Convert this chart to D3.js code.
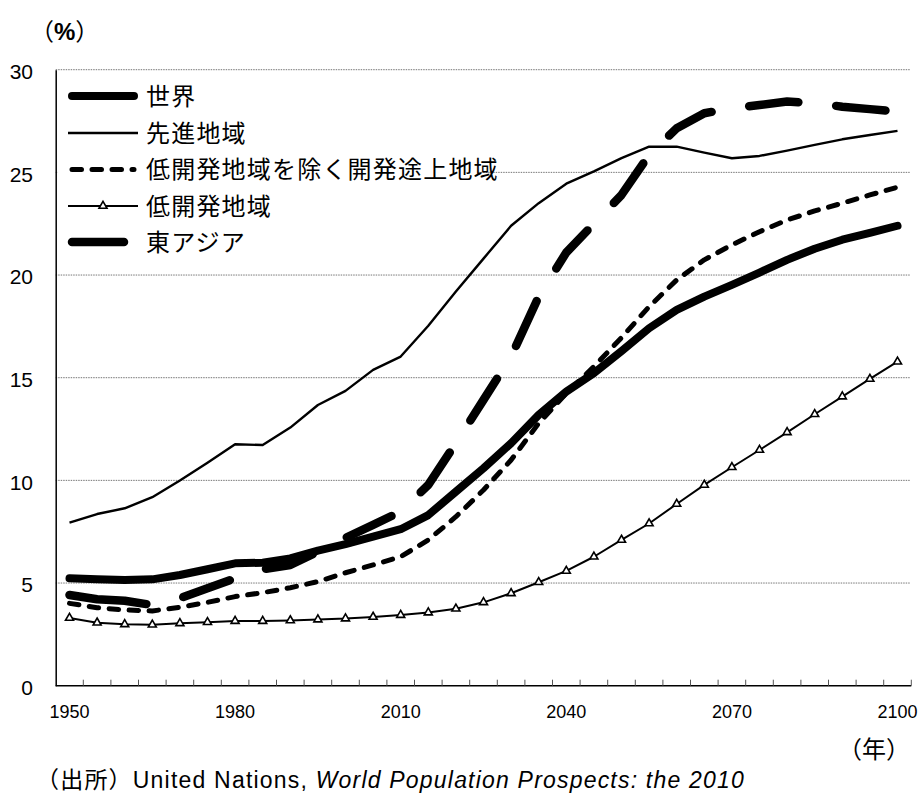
<!DOCTYPE html>
<html>
<head>
<meta charset="utf-8">
<script src="https://cdn.jsdelivr.net/npm/d3@7"></script>
<style>
  body { margin: 0; background: #fff; }
  svg { display: block; }
  text { font-family: "Liberation Sans", Arial, "Noto Sans CJK JP", sans-serif; fill: #000; }
  .jp { font-family: "Noto Sans CJK JP", "Liberation Sans", sans-serif; }
</style>
</head>
<body>
<div id="chart"></div>
<script>
// categories (5-year steps)
var years = [1950, 1955, 1960, 1965, 1970, 1975, 1980, 1985, 1990, 1995,
             2000, 2005, 2010, 2015, 2020, 2025, 2030, 2035, 2040, 2045,
             2050, 2055, 2060, 2065, 2070, 2075, 2080, 2085, 2090, 2095, 2100];
var tickYears = [1950, 1980, 2010, 2040, 2070, 2100];
var yTicks = [0, 5, 10, 15, 20, 25, 30];

var seriesNames = ["世界", "先進地域", "低開発地域を除く開発途上地域", "低開発地域", "東アジア"];

// share of population aged 65+ (%)
var world = [5.23, 5.18, 5.15, 5.18, 5.39, 5.67, 5.96, 5.99, 6.20, 6.58,
             6.90, 7.26, 7.62, 8.31, 9.45, 10.59, 11.81, 13.19, 14.32, 15.22,
             16.30, 17.41, 18.30, 18.95, 19.52, 20.12, 20.74, 21.28, 21.72, 22.05, 22.40];
var developed = [7.94, 8.36, 8.64, 9.18, 9.99, 10.86, 11.76, 11.72, 12.57, 13.67,
                 14.36, 15.38, 16.03, 17.53, 19.20, 20.80, 22.40, 23.50, 24.45, 25.05,
                 25.69, 26.25, 26.25, 25.96, 25.69, 25.80, 26.06, 26.34, 26.61, 26.82, 27.02];
var lessDevExcl = [4.01, 3.80, 3.69, 3.64, 3.82, 4.06, 4.34, 4.53, 4.77, 5.07,
                   5.50, 5.88, 6.28, 7.10, 8.23, 9.53, 10.99, 12.78, 14.24, 15.54,
                   16.95, 18.46, 19.76, 20.74, 21.47, 22.11, 22.68, 23.12, 23.50, 23.90, 24.28];
var leastDev = [3.30, 3.07, 2.99, 2.97, 3.04, 3.09, 3.15, 3.15, 3.18, 3.22,
                3.27, 3.35, 3.44, 3.56, 3.75, 4.06, 4.50, 5.04, 5.59, 6.28,
                7.10, 7.90, 8.85, 9.78, 10.64, 11.48, 12.34, 13.22, 14.08, 14.94, 15.78];
var eastAsia = [4.42, 4.21, 4.14, 3.93, 4.26, 4.74, 5.23, 5.67, 5.88, 6.53,
                7.20, 7.83, 8.48, 9.78, 11.81, 13.92, 16.03, 18.95, 21.10, 22.50,
                23.90, 25.85, 27.15, 27.88, 28.12, 28.28, 28.45, 28.37, 28.20, 28.08, 27.96];

var W = 920, H = 794;
var margin = { top: 69.7, right: 8.7, bottom: 108.3, left: 55.7 };

var svg = d3.select("#chart").append("svg")
    .attr("width", W)
    .attr("height", H);

var x = d3.scaleBand()
    .domain(years)
    .range([margin.left, W - margin.right])
    .padding(0);
var cx = function(yr) { return x(yr) + x.bandwidth() / 2; };

var y = d3.scaleLinear()
    .domain([0, 30])
    .range([H - margin.bottom, margin.top]);

// gridlines
svg.append("g").selectAll("line")
    .data(yTicks.filter(function(d) { return d > 0; }))
  .enter().append("line")
    .attr("x1", margin.left).attr("x2", W - 10)
    .attr("y1", function(d) { return y(d); })
    .attr("y2", function(d) { return y(d); })
    .attr("stroke", "#777")
    .attr("stroke-width", 1)
    .attr("stroke-dasharray", "1.5,1");

// y axis
var yAxis = svg.append("g")
    .attr("transform", "translate(" + margin.left + ",0)")
    .call(d3.axisLeft(y).tickValues(yTicks).tickSize(0).tickPadding(22.7));
yAxis.select(".domain").attr("stroke", "#000").attr("stroke-width", 1.5);
yAxis.selectAll("text")
    .attr("dy", "0.42em")
    .style("font-family", "'Liberation Sans', Arial, sans-serif")
    .style("font-size", "21px");

// x axis (labels at category centres, ticks at category boundaries)
var xAxis = svg.append("g")
    .attr("transform", "translate(0," + (H - margin.bottom) + ")")
    .call(d3.axisBottom(x).tickValues(tickYears).tickSize(0).tickPadding(19.5));
xAxis.select(".domain").attr("d", "M" + margin.left + ",0H" + (W - margin.right))
    .attr("stroke", "#000").attr("stroke-width", 1.5);
xAxis.selectAll("text")
    .style("font-family", "'Liberation Sans', Arial, sans-serif")
    .style("font-size", "18px");
xAxis.selectAll("line.bound")
    .data(years)
  .enter().append("line")
    .attr("class", "bound")
    .attr("x1", function(d) { return x(d) + x.bandwidth(); })
    .attr("x2", function(d) { return x(d) + x.bandwidth(); })
    .attr("y1", 0).attr("y2", -6)
    .attr("stroke", "#555")
    .attr("stroke-width", 1);

// long-dash pattern: the first dash runs longer, as in the original
var longDash = [77.5, 38];
for (var k = 0; k < 24; k++) longDash.push(49.5, 38);

// series
var styles = [
  { values: world,       width: 8,   dash: null,      cap: "round" },
  { values: developed,   width: 2.4, dash: null,      cap: "butt" },
  { values: lessDevExcl, width: 5,   dash: "9.5,10.5", cap: "round" },
  { values: leastDev,    width: 2,   dash: null,      cap: "butt", marker: true },
  { values: eastAsia,    width: 8.5, dash: longDash.join(","), cap: "round" }
];

var line = d3.line()
    .x(function(d, i) { return cx(years[i]); })
    .y(function(d) { return y(d); });

var tri = d3.symbol().type(d3.symbolTriangle).size(28);

styles.forEach(function(s) {
  svg.append("path")
      .datum(s.values)
      .attr("d", line)
      .attr("fill", "none")
      .attr("stroke", "#000")
      .attr("stroke-width", s.width)
      .attr("stroke-linecap", s.cap)
      .attr("stroke-linejoin", "round")
      .attr("stroke-dasharray", s.dash);
  if (s.marker) {
    svg.append("g").selectAll("path")
        .data(s.values)
      .enter().append("path")
        .attr("d", tri)
        .attr("transform", function(d, i) { return "translate(" + cx(years[i]) + "," + y(d) + ")"; })
        .attr("fill", "#fff")
        .attr("stroke", "#000")
        .attr("stroke-width", 1.6);
  }
});

// legend
var lg = svg.append("g");
lg.append("rect")
    .attr("x", 58).attr("y", 78).attr("width", 420).attr("height", 184)
    .attr("fill", "#fff");
var rowY = [96, 133, 169.5, 206, 242];
seriesNames.forEach(function(name, i) {
  var s = styles[i];
  var ly = rowY[i];
  var x1 = s.cap === "round" ? 72 : 68, x2 = s.cap === "round" ? 134 : 138;
  if (i === 4) x2 = 124;
  lg.append("line")
      .attr("x1", x1).attr("x2", x2).attr("y1", ly).attr("y2", ly)
      .attr("stroke", "#000")
      .attr("stroke-width", s.width)
      .attr("stroke-linecap", s.cap)
      .attr("stroke-dasharray", i === 4 ? null : s.dash);
  if (s.marker) {
    lg.append("path").attr("d", tri)
        .attr("transform", "translate(103," + ly + ")")
        .attr("fill", "#fff").attr("stroke", "#000").attr("stroke-width", 1.6);
  }
  lg.append("text")
      .attr("class", "jp")
      .attr("x", 146).attr("y", ly)
      .attr("dy", "0.36em")
      .style("font-size", "24px")
      .style("letter-spacing", "1.2px")
      .text(name);
});

// unit labels
var pct = svg.append("text").attr("x", 30).attr("y", 40).style("font-size", "24px");
pct.append("tspan").attr("class", "jp").text("（");
pct.append("tspan").style("font-weight", "bold").text("%");
pct.append("tspan").attr("class", "jp").text("）");

svg.append("text")
    .attr("class", "jp")
    .attr("x", 838).attr("y", 758)
    .style("font-size", "24px")
    .text("（年）");

// source
var src = svg.append("text").attr("x", 36).attr("y", 788)
    .style("font-size", "23px")
    .style("letter-spacing", "1.2px");
src.append("tspan").attr("class", "jp").text("（出所）");
src.append("tspan").text("United Nations, ");
src.append("tspan").style("font-style", "italic").text("World Population Prospects: the 2010");
</script>
</body>
</html>
